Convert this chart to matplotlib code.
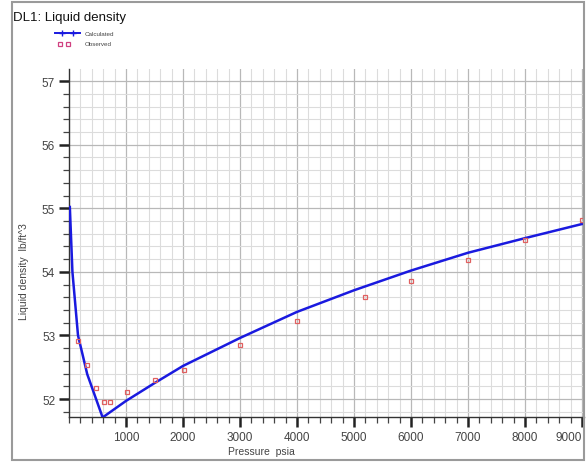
import matplotlib
matplotlib.use("Agg")
import matplotlib.pyplot as plt
from matplotlib.patches import Rectangle
from matplotlib.ticker import MultipleLocator
from matplotlib.lines import Line2D

plt.rcParams['font.family'] = ['Liberation Sans', 'DejaVu Sans']

title = "DL1: Liquid density"
xlabel = "Pressure  psia"
ylabel = "Liquid density  lb/ft^3"

calc_p = [14.7, 60, 158, 320, 590, 1000, 1500, 2000, 3000, 4000, 5000, 6000, 7000, 8000, 9035]
calc_d = [55.02, 54.0, 53.0, 52.39, 51.71, 51.97, 52.25, 52.52, 52.96, 53.37, 53.71, 54.02, 54.30, 54.53, 54.76]

obs_p = [160, 320, 470, 610, 720, 1010, 1510, 2010, 3000, 4000, 5200, 6000, 7000, 8000, 9000]
obs_d = [52.92, 52.54, 52.17, 51.95, 51.96, 52.11, 52.30, 52.46, 52.85, 53.23, 53.61, 53.86, 54.18, 54.50, 54.81]

xticks = [1000, 2000, 3000, 4000, 5000, 6000, 7000, 8000, 9000]
yticks = [52, 53, 54, 55, 56, 57]

W, H = 586, 464
fig = plt.figure(figsize=(W / 100, H / 100), dpi=100)
fig.patch.set_facecolor('white')

# outer frame
fig.patches.append(Rectangle((12 / W, 1 - 461 / H), (584 - 12) / W, (461 - 3) / H,
                             transform=fig.transFigure, fill=False,
                             edgecolor='#9a9a9a', lw=1.5))

ax_l, ax_r, ax_t, ax_b = 69, 584, 70, 418
ax = fig.add_axes([ax_l / W, 1 - ax_b / H, (ax_r - ax_l) / W, (ax_b - ax_t) / H])
ax.set_facecolor('white')

ax.plot(calc_p, calc_d, color='#1a1adf', lw=1.8, zorder=3)
ax.plot(obs_p, obs_d, ls='none', marker='s', ms=3.2, mfc='none', mec='#e06060', mew=0.9, zorder=4)

ax.set_xlim(0, 9035)
ax.set_ylim(51.717, 57.19)

ax.xaxis.set_minor_locator(MultipleLocator(200))
ax.yaxis.set_minor_locator(MultipleLocator(0.2))
ax.set_xticks(xticks)
ax.set_yticks(yticks)
ax.set_xticklabels([str(v) for v in xticks])
ax.set_yticklabels([str(v) for v in yticks])
ax.get_xticklabels()[-1].set_horizontalalignment('right')

ax.grid(which='major', color='#b8b8b8', lw=0.9)
ax.grid(which='minor', color='#dcdcdc', lw=0.8)
ax.set_axisbelow(True)

for s in ['top', 'right']:
    ax.spines[s].set_visible(False)
for s in ['left', 'bottom']:
    ax.spines[s].set_color('#333333')
    ax.spines[s].set_linewidth(1.0)

ax.tick_params(which='major', direction='out', length=7, width=1.8, color='#222222',
               labelsize=8.5, labelcolor='#444444', pad=3)
ax.tick_params(which='minor', direction='out', length=4, width=0.9, color='#444444')

fig.text(261 / W, 1 - 452 / H, xlabel, fontsize=7.5, color='#444444', ha='center', va='center')
fig.text(24 / W, 1 - 272 / H, ylabel, fontsize=7.5, color='#444444', ha='center', va='center',
         rotation=90)

fig.text(13 / W, 1 - 18 / H, title, fontsize=9.5, color='#111111', va='center', ha='left')

# legend
lax = fig.add_axes([0, 0, 1, 1], facecolor='none')
lax.set_xlim(0, W)
lax.set_ylim(H, 0)
lax.axis('off')
lax.add_line(Line2D([55, 80], [34, 34], color='#1a1adf', lw=1.4))
lax.add_line(Line2D([62, 73], [34, 34], color='#1a1adf', lw=0, marker='+', ms=4))
lax.plot([60, 68], [45, 45], ls='none', marker='s', ms=3.5, mfc='none', mec='#d04080', mew=0.9)
lax.text(85, 34, "Calculated", fontsize=4.5, va='center', ha='left', color='#444444')
lax.text(85, 45, "Observed", fontsize=4.5, va='center', ha='left', color='#444444')

fig.savefig('out.png', dpi=100)
